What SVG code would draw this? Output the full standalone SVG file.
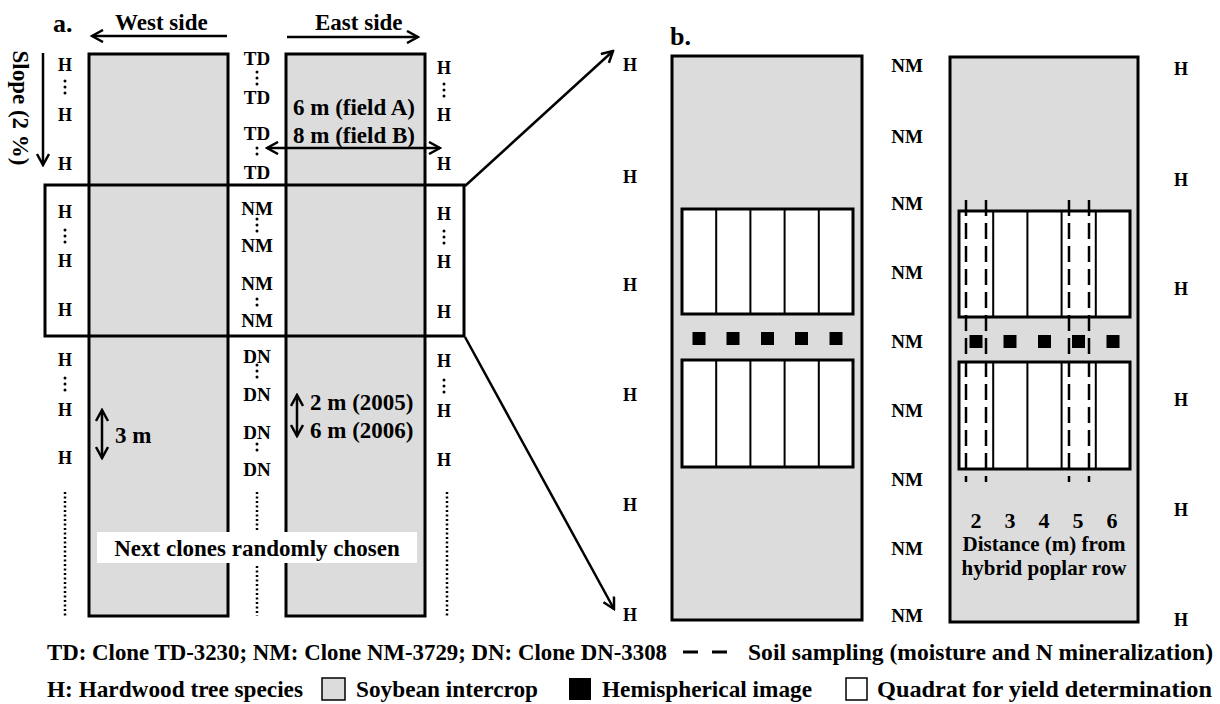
<svg xmlns="http://www.w3.org/2000/svg" width="1220" height="704" viewBox="0 0 1220 704">
<defs>
<style>
.t{font-family:"Liberation Serif","Times New Roman",serif;font-weight:bold;fill:#000}
.h{font-size:18px;text-anchor:middle}
.c{font-size:19px;text-anchor:middle}
.m{font-size:23px}
.lg{font-size:23px}
.soy{fill:#dcdcdc;stroke:#000;stroke-width:3}
.q{fill:#fff;stroke:#000;stroke-width:3}
.div{stroke:#000;stroke-width:2}
.dash{stroke:#000;stroke-width:2.5;stroke-dasharray:16 7;fill:none}
.dots{stroke:#000;stroke-width:2.5;stroke-dasharray:2 2.5;fill:none}
.ln{stroke:#000;stroke-width:2.5;fill:none}
.dt{fill:#000}
</style>
<marker id="ah" viewBox="0 0 14 14" markerWidth="14" markerHeight="14" refX="12" refY="7" orient="auto-start-reverse" markerUnits="userSpaceOnUse">
<path d="M1,1 L12,7 L1,13" fill="none" stroke="#000" stroke-width="2.5"/>
</marker>
<g id="vd"><circle cx="0" cy="-6" r="1.5"/><circle cx="0" cy="0" r="1.5"/><circle cx="0" cy="6" r="1.5"/></g>
<g id="cd"><circle cx="0" cy="-3" r="1.5"/><circle cx="0" cy="3" r="1.5"/></g>
</defs>
<rect width="1220" height="704" fill="#fff"/>

<!-- Panel a -->
<g id="panel-a">
<text class="t" x="53" y="32" font-size="26">a.</text>
<text class="t m" x="115" y="30">West side</text>
<text class="t m" x="315" y="30">East side</text>
<text class="t m" transform="translate(13,108) rotate(90)" text-anchor="middle">Slope (2 %)</text>

<g id="west-row"><rect class="soy" x="89" y="54" width="139" height="562"/></g>
<g id="east-row"><rect class="soy" x="286" y="54" width="139" height="562"/></g>
<g id="zoom-box"><rect x="45" y="185" width="419" height="151" fill="none" stroke="#000" stroke-width="3"/></g>

<g id="next-clones">
<rect x="97" y="532" width="320" height="31" fill="#fff"/>
<text class="t m" x="257" y="556" text-anchor="middle">Next clones randomly chosen</text>
</g>

<g id="west-h" class="t h">
<text x="65" y="71">H</text><text x="65" y="121">H</text><text x="65" y="170">H</text>
<text x="65" y="218">H</text><text x="65" y="267">H</text><text x="65" y="316">H</text>
<text x="65" y="366">H</text><text x="65" y="416">H</text><text x="65" y="464">H</text>
</g>
<g class="dt">
<use href="#vd" x="65" y="87"/><use href="#vd" x="65" y="236"/><use href="#vd" x="65" y="384"/>
<use href="#vd" x="444" y="90"/><use href="#vd" x="444" y="237"/><use href="#vd" x="444" y="386"/>
<use href="#vd" x="257" y="78"/><use href="#vd" x="257" y="225"/><use href="#vd" x="257" y="371"/>
<use href="#cd" x="257" y="151"/><use href="#cd" x="257" y="302"/><use href="#cd" x="257" y="447"/>
</g>
<g id="clone-col" class="t c">
<text x="257" y="65">TD</text><text x="257" y="104">TD</text><text x="257" y="140">TD</text><text x="257" y="179">TD</text>
<text x="257" y="215">NM</text><text x="257" y="252">NM</text><text x="257" y="290">NM</text><text x="257" y="327">NM</text>
<text x="257" y="363">DN</text><text x="257" y="401">DN</text><text x="257" y="439">DN</text><text x="257" y="476">DN</text>
</g>
<g id="east-h" class="t h">
<text x="444" y="74">H</text><text x="444" y="121">H</text><text x="444" y="170">H</text>
<text x="444" y="220">H</text><text x="444" y="268">H</text><text x="444" y="318">H</text>
<text x="444" y="367">H</text><text x="444" y="417">H</text><text x="444" y="466">H</text>
</g>
<text class="t m" x="293" y="115">6 m (field A)</text>
<text class="t m" x="293" y="143">8 m (field B)</text>
<text class="t m" x="115" y="443">3 m</text>
<text class="t m" x="310" y="410">2 m (2005)</text>
<text class="t m" x="310" y="438">6 m (2006)</text>
</g>

<g id="connectors">
<line class="ln" x1="227" y1="36" x2="92" y2="36" marker-end="url(#ah)"/>
<line class="ln" x1="287" y1="37" x2="418" y2="37" marker-end="url(#ah)"/>
<line class="ln" x1="43" y1="53" x2="43" y2="165" marker-end="url(#ah)"/>
<line class="ln" x1="267" y1="148" x2="440" y2="148" marker-start="url(#ah)" marker-end="url(#ah)"/>
<line class="ln" x1="102" y1="410" x2="102" y2="458" marker-start="url(#ah)" marker-end="url(#ah)"/>
<line class="ln" x1="297" y1="395" x2="297" y2="436" marker-start="url(#ah)" marker-end="url(#ah)"/>
<line class="dots" x1="65" y1="492" x2="65" y2="616"/>
<line class="dots" x1="257" y1="492" x2="257" y2="530"/>
<line class="dots" x1="257" y1="566" x2="257" y2="616"/>
<line class="dots" x1="447" y1="492" x2="447" y2="616"/>
<line class="ln" x1="465" y1="186" x2="613" y2="51" marker-end="url(#ah)"/>
<line class="ln" x1="465" y1="337" x2="614" y2="609" marker-end="url(#ah)"/>
</g>

<!-- Panel b -->
<g id="panel-b">
<text class="t" x="670" y="45" font-size="26">b.</text>
<g id="b-left-row">
<rect class="soy" x="672" y="56" width="190" height="564"/>
<rect class="q" x="682" y="209" width="171" height="105"/>
<rect class="q" x="682" y="360" width="171" height="107"/>
<path class="div" d="M716.2,209V314M750.4,209V314M784.6,209V314M818.8,209V314M716.2,360V467M750.4,360V467M784.6,360V467M818.8,360V467"/>
<g class="dt"><rect x="692.5" y="332" width="13" height="13"/><rect x="726.5" y="332" width="13" height="13"/><rect x="761" y="332" width="13" height="13"/><rect x="795" y="332" width="13" height="13"/><rect x="829.5" y="332" width="13" height="13"/></g>
</g>
<g id="b-right-row">
<rect class="soy" x="950" y="57" width="188" height="565"/>
<rect class="q" x="959" y="211" width="171" height="106"/>
<rect class="q" x="959" y="362" width="171" height="107"/>
<path class="div" d="M993.2,211V317M1027.4,211V317M1061.6,211V317M1095.8,211V317M993.2,362V469M1027.4,362V469M1061.6,362V469M1095.8,362V469"/>
<g class="dt"><rect x="969.5" y="335" width="13" height="13"/><rect x="1003.5" y="335" width="13" height="13"/><rect x="1038" y="335" width="13" height="13"/><rect x="1072" y="335" width="13" height="13"/><rect x="1106.5" y="335" width="13" height="13"/></g>
<path class="dash" d="M966,200V482M986,200V482M1069,200V482M1089,200V482"/>
<g class="t" font-size="21" text-anchor="middle">
<text x="976" y="528" font-size="22">2</text><text x="1010" y="528" font-size="22">3</text><text x="1044" y="528" font-size="22">4</text><text x="1078" y="528" font-size="22">5</text><text x="1112" y="528" font-size="22">6</text>
<text x="1044" y="551">Distance (m) from</text>
<text x="1044" y="575">hybrid poplar row</text>
</g>
</g>
<g id="b-left-h" class="t h">
<text x="630" y="71">H</text><text x="630" y="183">H</text><text x="630" y="291">H</text><text x="630" y="401">H</text><text x="630" y="511">H</text><text x="630" y="621">H</text>
</g>
<g id="b-nm" class="t c">
<text x="907" y="72">NM</text><text x="907" y="143">NM</text><text x="907" y="210">NM</text><text x="907" y="279">NM</text><text x="907" y="348">NM</text><text x="907" y="417">NM</text><text x="907" y="486">NM</text><text x="907" y="555">NM</text><text x="907" y="622">NM</text>
</g>
<g id="b-right-h" class="t h">
<text x="1181" y="75">H</text><text x="1181" y="186">H</text><text x="1181" y="295">H</text><text x="1181" y="406">H</text><text x="1181" y="516">H</text><text x="1181" y="626">H</text>
</g>
</g>

<!-- Legend -->
<g id="legend">
<text class="t lg" x="47" y="660" textLength="620" lengthAdjust="spacingAndGlyphs">TD: Clone TD-3230; NM: Clone NM-3729; DN: Clone DN-3308</text>
<path d="M683,652H698M712,652H727" stroke="#000" stroke-width="3"/>
<text class="t lg" x="748" y="660" textLength="465" lengthAdjust="spacingAndGlyphs">Soil sampling (moisture and N mineralization)</text>
<text class="t lg" x="47" y="697" textLength="256" lengthAdjust="spacingAndGlyphs">H: Hardwood tree species</text>
<rect x="322" y="678" width="23" height="22" fill="#dcdcdc" stroke="#000" stroke-width="1.5"/>
<text class="t lg" x="356" y="697" textLength="182" lengthAdjust="spacingAndGlyphs">Soybean intercrop</text>
<rect x="569" y="678" width="22" height="22" fill="#000"/>
<text class="t lg" x="602" y="697" textLength="210" lengthAdjust="spacingAndGlyphs">Hemispherical image</text>
<rect x="846" y="678" width="21" height="22" fill="#fff" stroke="#000" stroke-width="1.5"/>
<text class="t lg" x="877" y="697" textLength="335" lengthAdjust="spacingAndGlyphs">Quadrat for yield determination</text>
</g>
</svg>
